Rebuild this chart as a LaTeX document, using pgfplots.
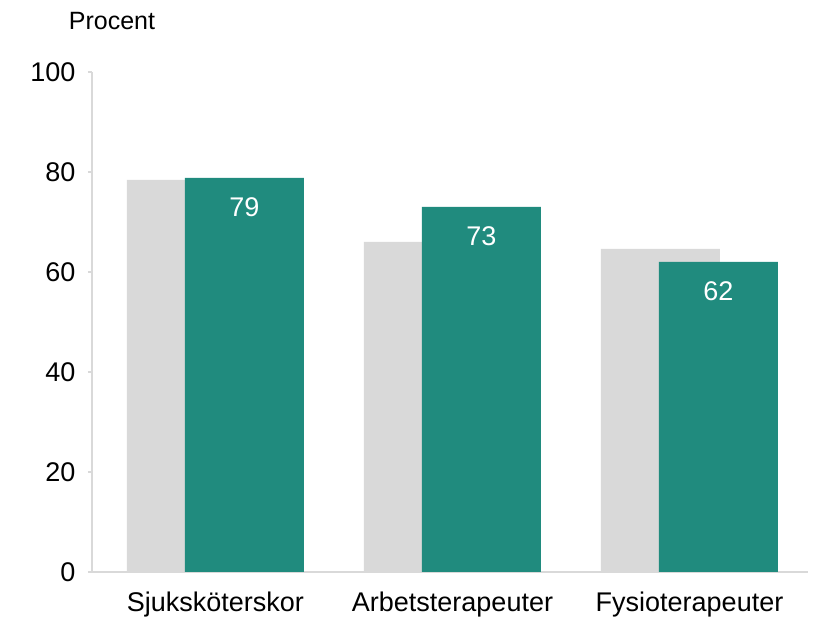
\documentclass[border=0pt]{standalone}
\usepackage{pgfplots}
\pgfplotsset{compat=1.18}
\usepackage{fontspec}
\setmainfont{Liberation Sans}
\definecolor{grn}{HTML}{208B7E}
\definecolor{lgray}{HTML}{D9D9D9}
\begin{document}
\begin{tikzpicture}
\path[use as bounding box] (0pt,0pt) rectangle (815pt,621pt);
\begin{axis}[at={(92pt,49pt)}, anchor=south west, scale only axis,
  width=716pt, height=500pt,
  xmin=-0.521, xmax=2.5, ymin=0, ymax=100,
  axis x line*=bottom, axis y line*=left,
  axis line style={draw=lgray, line width=1.2pt, -},
  ytick={0,20,...,100}, xtick={0,1,2},
  xticklabels={Sjuksköterskor,Arbetsterapeuter,Fysioterapeuter},
  x tick style={draw=none}, y tick style={draw=lgray, line width=1.2pt},
  major tick length=4pt, tick align=outside,
  ticklabel style={font=\fontsize{27}{32}\selectfont, text=black},
  /pgf/number format/assume math mode=true,
  xticklabel style={yshift=-12pt}, yticklabel style={xshift=-9pt},
  ybar, bar width=119pt,
]
\addplot[fill=lgray, draw=none, bar shift=-29pt] coordinates {(0,78.4) (1,66) (2,64.6)};
\addplot[fill=grn, draw=none, bar shift=29pt,
  nodes near coords, point meta=explicit symbolic,
  nodes near coords style={text=white, anchor=center, yshift=-29pt, font=\fontsize{27}{32}\selectfont}]
  coordinates {(0,78.8)[79] (1,73)[73] (2,62)[62]};
\end{axis}
\node[font=\fontsize{25}{30}\selectfont] at (112pt,600pt) {Procent};
\end{tikzpicture}
\end{document}
